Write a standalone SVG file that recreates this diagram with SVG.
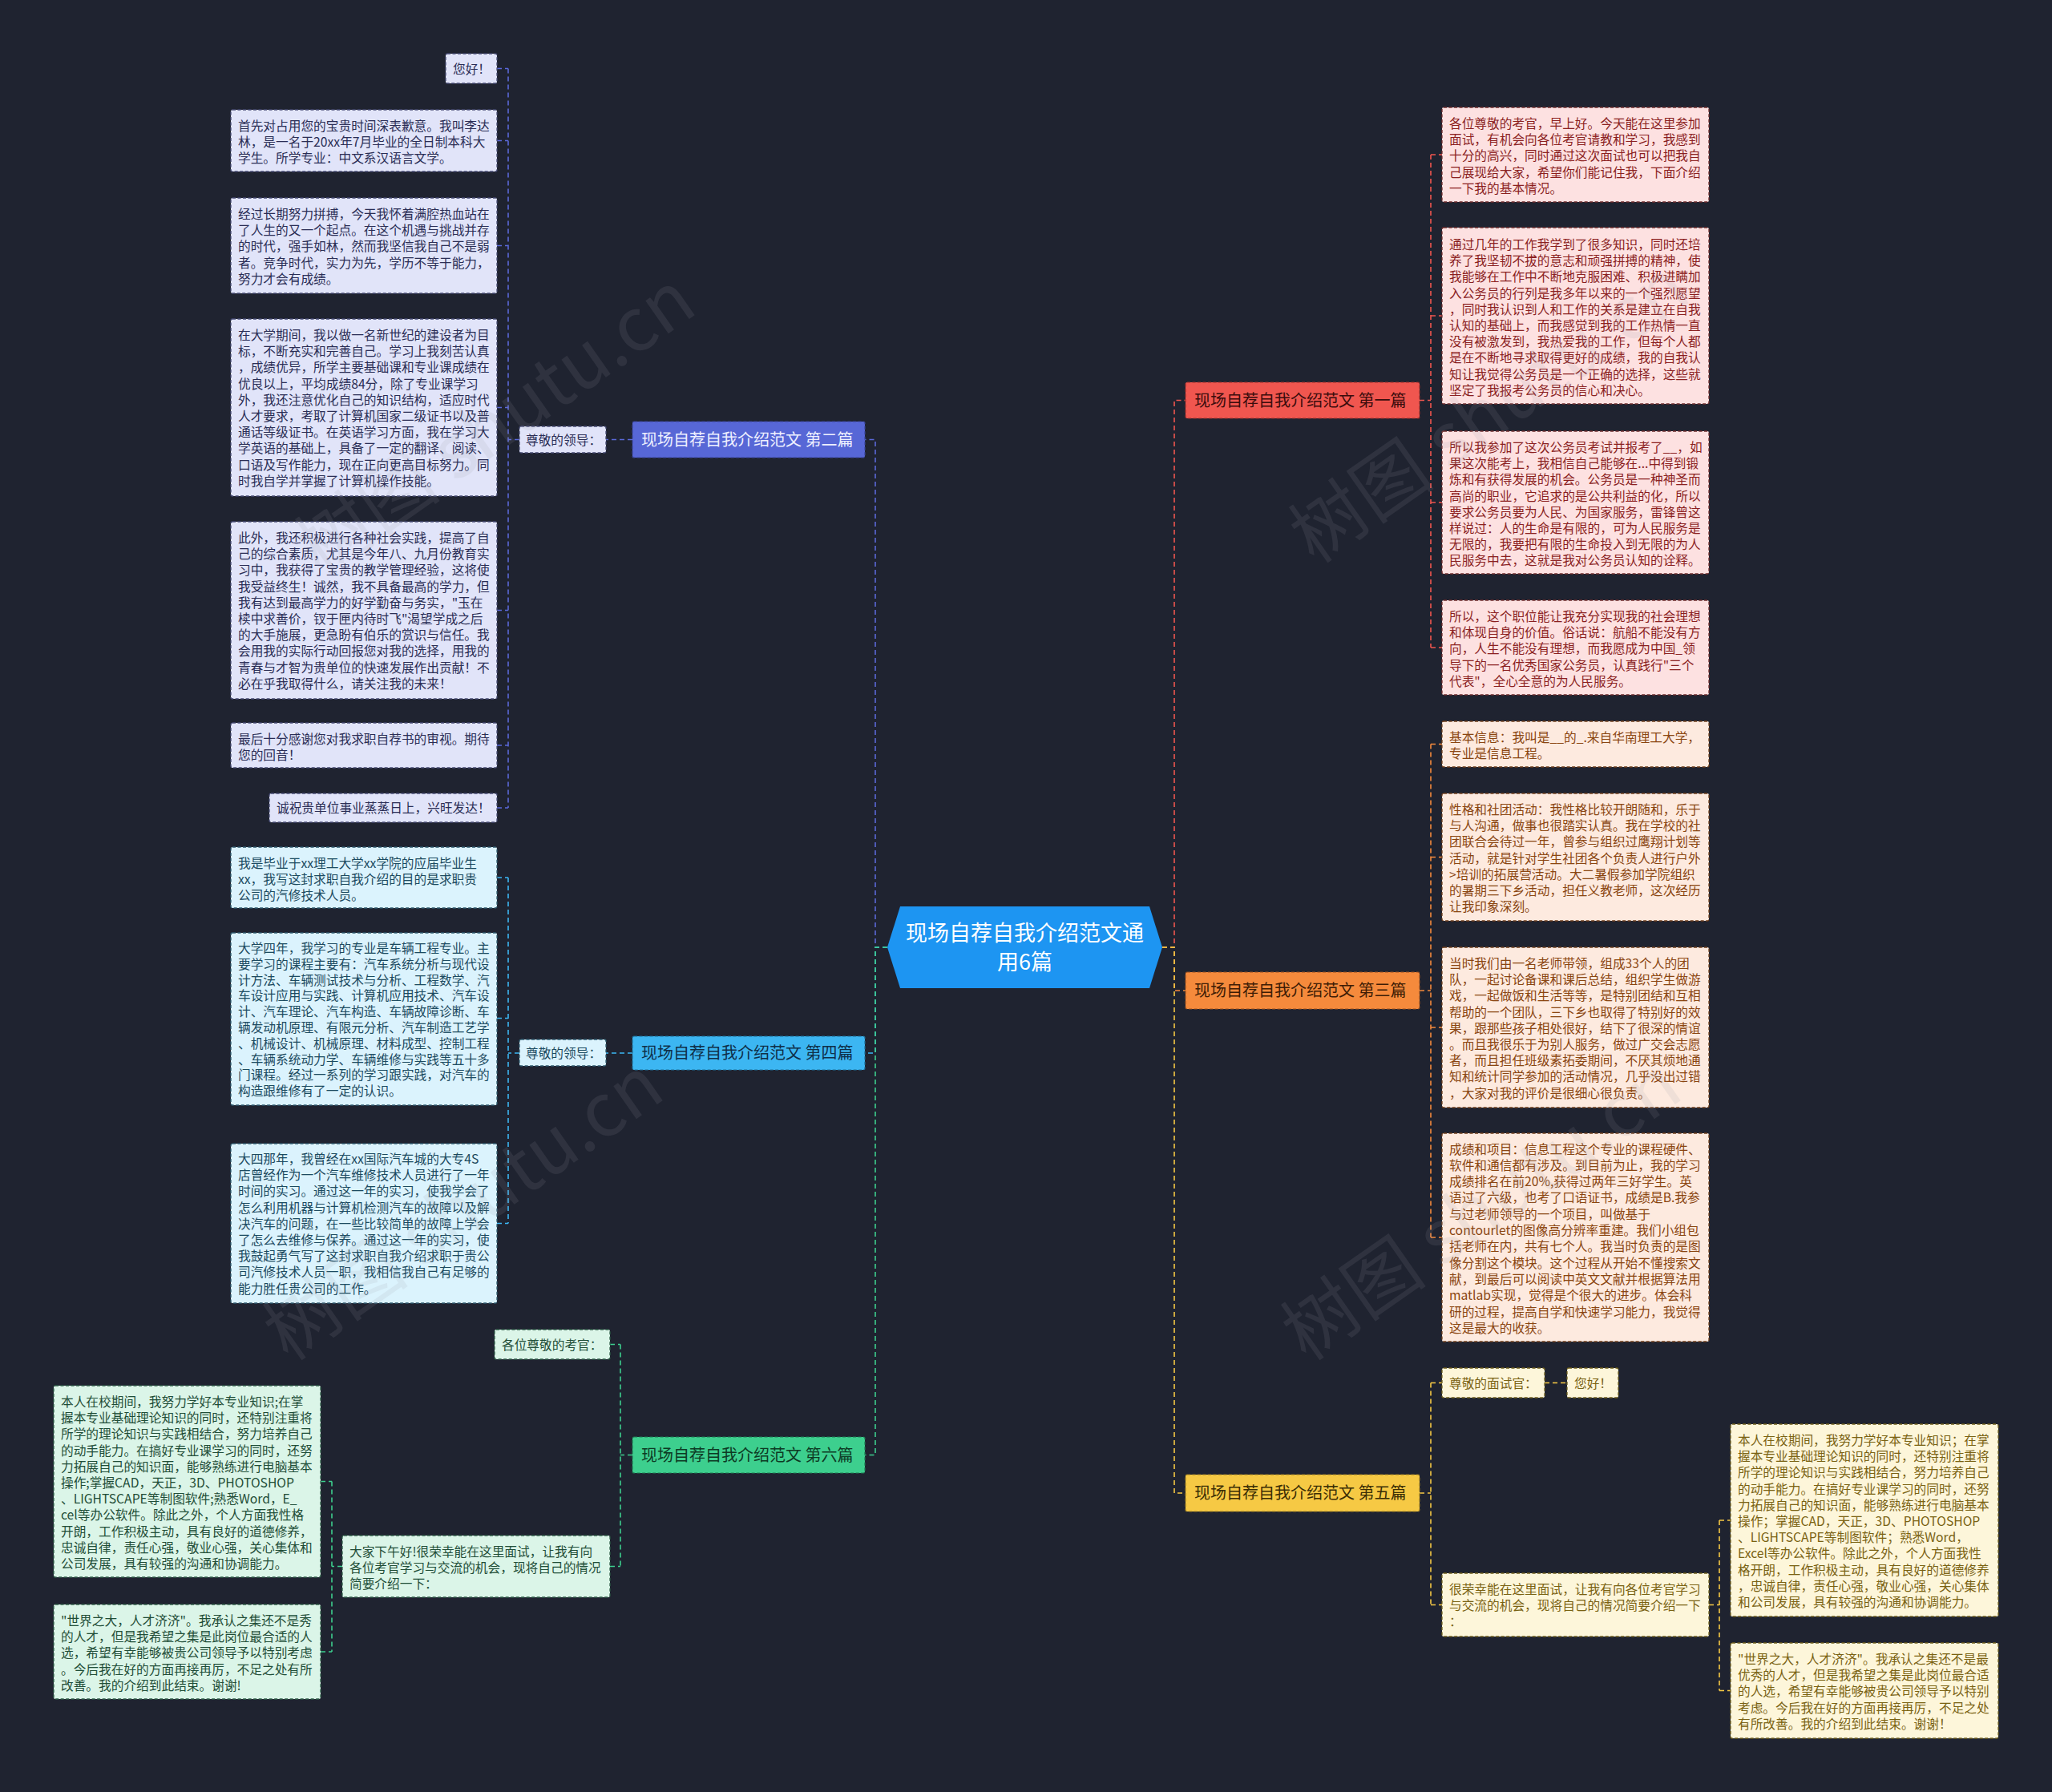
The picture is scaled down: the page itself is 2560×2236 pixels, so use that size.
<svg xmlns="http://www.w3.org/2000/svg" width="2560" height="2236" viewBox="0 0 2560 2236">
<style>
text{font-family:"Noto Sans CJK SC","Liberation Sans",sans-serif;}
.leaf text{font-size:15.7px;}
.leaf rect{stroke-width:1.3;stroke-dasharray:4 2.5;}
.b2 rect{fill:#e1e4f9;stroke:#454a72;} .b2 text{fill:#2a2d55;}
.b4 rect{fill:#dbf3fd;stroke:#2f5a6e;} .b4 text{fill:#1b4a60;}
.b6 rect{fill:#dbf5e8;stroke:#2f5c47;} .b6 text{fill:#1f4d37;}
.b1 rect{fill:#fde1e1;stroke:#6e2c2c;} .b1 text{fill:#8b1f1f;}
.b3 rect{fill:#fdeadf;stroke:#6e3e1c;} .b3 text{fill:#8a4510;}
.b5 rect{fill:#fdf6da;stroke:#6e5e1c;} .b5 text{fill:#7a6212;}
.br text{font-size:20px;}
.br rect{stroke-width:1.2;stroke-dasharray:4 2.5;}
#connectors path{fill:none;stroke-width:1.6;stroke-dasharray:6 4;}
.c1{stroke:#f0564f;} .c2{stroke:#5a68d8;} .c3{stroke:#f58a3c;}
.c4{stroke:#3cb6f2;} .c5{stroke:#f6c944;} .c6{stroke:#3dcf8e;}
.wm{font-size:92px;fill:#9a9aa6;opacity:0.13;}
</style>
<rect width="2560" height="2236" fill="#1f2330"/>

<g id="connectors">
<path class="c2" d="M1107,1182 H1092 V548.5 H1079"/>
<path class="c4" d="M1107,1182 H1092 V1314 H1079"/>
<path class="c6" d="M1107,1182 H1092 V1815.5 H1079"/>
<path class="c1" d="M1450,1182 H1465 V499.5 H1479"/>
<path class="c3" d="M1450,1182 H1465 V1236 H1479"/>
<path class="c5" d="M1450,1182 H1465 V1863 H1479"/>

<path class="c2" d="M789,548.5 H756 M648,548.5 H634 M634,85.5 V1008 M620,85.5 H634 M620,175.5 H634 M620,306.5 H634 M620,508.5 H634 M620,761.5 H634 M620,930 H634 M620,1008 H634"/>
<path class="c4" d="M789,1314 H756 M648,1314 H634 M634,1095 V1526.5 M620,1095 H634 M620,1270.5 H634 M620,1526.5 H634"/>
<path class="c6" d="M789,1815.5 H774 M774,1677.5 V1954.5 M761,1677.5 H774 M761,1954.5 H774 M427,1954.5 H414 M414,1848.5 V2061 M400,1848.5 H414 M400,2061 H414"/>
<path class="c1" d="M1771,499.5 H1785 M1785,193 V808 M1785,193 H1799 M1785,394 H1799 M1785,627 H1799 M1785,808 H1799"/>
<path class="c3" d="M1771,1236 H1785 M1785,928.5 V1544 M1785,928.5 H1799 M1785,1069.5 H1799 M1785,1282 H1799 M1785,1544 H1799"/>
<path class="c5" d="M1771,1863 H1785 M1785,1725.5 V2002.5 M1785,1725.5 H1799 M1785,2002.5 H1799 M1927,1725.5 H1955 M2132,2002.5 H2145 M2145,1897 V2109.5 M2145,1897 H2159 M2145,2109.5 H2159"/>
</g>

<g id="root">
<polygon points="1123,1131 1434,1131 1450,1182 1434,1233 1123,1233 1107,1182" fill="#1d95f2"/>
<text x="1278.5" y="1174" font-size="27" fill="#ffffff" text-anchor="middle">现场自荐自我介绍范文通</text>
<text x="1278.5" y="1210" font-size="27" fill="#ffffff" text-anchor="middle">用6篇</text>
</g>

<g id="branch2" class="br"><rect x="789" y="526" width="290" height="45" rx="2" fill="#5767d6" stroke="#3a4598"/><text x="800" y="555.5" fill="#eef0ff">现场自荐自我介绍范文 第二篇</text></g>
<g id="branch4" class="br"><rect x="789" y="1293" width="290" height="42" rx="2" fill="#3cb6f2" stroke="#1f6e96"/><text x="800" y="1321" fill="#0f2f48">现场自荐自我介绍范文 第四篇</text></g>
<g id="branch6" class="br"><rect x="789" y="1793" width="290" height="45" rx="2" fill="#3dcf8e" stroke="#1f7a52"/><text x="800" y="1822.5" fill="#0d3a24">现场自荐自我介绍范文 第六篇</text></g>
<g id="branch1" class="br"><rect x="1479" y="477" width="292" height="45" rx="2" fill="#f0564f" stroke="#9a2e2a"/><text x="1490" y="506.5" fill="#3a0c0c">现场自荐自我介绍范文 第一篇</text></g>
<g id="branch3" class="br"><rect x="1479" y="1213" width="292" height="46" rx="2" fill="#f58a3c" stroke="#9a5120"/><text x="1490" y="1243" fill="#3d1c05">现场自荐自我介绍范文 第三篇</text></g>
<g id="branch5" class="br"><rect x="1479" y="1840" width="292" height="46" rx="2" fill="#f6c944" stroke="#9a7c20"/><text x="1490" y="1870" fill="#3b2e05">现场自荐自我介绍范文 第五篇</text></g>

<!-- branch 2 -->
<g id="b2-label" class="leaf b2"><rect x="648" y="532" width="108" height="33" rx="2"/><text x="656" y="554.5">尊敬的领导：</text></g>
<g id="b2-1" class="leaf b2"><rect x="556" y="67" width="64" height="37" rx="2"/><text x="565" y="91.5">您好！</text></g>
<g id="b2-2" class="leaf b2"><rect x="288" y="137" width="332" height="77" rx="2"/><text x="297" y="163"><tspan x="297">首先对占用您的宝贵时间深表歉意。我叫李达</tspan><tspan x="297" dy="20.2">林，是一名于20xx年7月毕业的全日制本科大</tspan><tspan x="297" dy="20.2">学生。所学专业：中文系汉语言文学。</tspan></text></g>
<g id="b2-3" class="leaf b2"><rect x="288" y="247" width="332" height="119" rx="2"/><text x="297" y="273"><tspan x="297">经过长期努力拼搏，今天我怀着满腔热血站在</tspan><tspan x="297" dy="20.2">了人生的又一个起点。在这个机遇与挑战并存</tspan><tspan x="297" dy="20.2">的时代，强手如林，然而我坚信我自己不是弱</tspan><tspan x="297" dy="20.2">者。竞争时代，实力为先，学历不等于能力，</tspan><tspan x="297" dy="20.2">努力才会有成绩。</tspan></text></g>
<g id="b2-4" class="leaf b2"><rect x="288" y="398" width="332" height="221" rx="2"/><text x="297" y="424"><tspan x="297">在大学期间，我以做一名新世纪的建设者为目</tspan><tspan x="297" dy="20.2">标，不断充实和完善自己。学习上我刻苦认真</tspan><tspan x="297" dy="20.2">，成绩优异，所学主要基础课和专业课成绩在</tspan><tspan x="297" dy="20.2">优良以上，平均成绩84分，除了专业课学习</tspan><tspan x="297" dy="20.2">外，我还注意优化自己的知识结构，适应时代</tspan><tspan x="297" dy="20.2">人才要求，考取了计算机国家二级证书以及普</tspan><tspan x="297" dy="20.2">通话等级证书。在英语学习方面，我在学习大</tspan><tspan x="297" dy="20.2">学英语的基础上，具备了一定的翻译、阅读、</tspan><tspan x="297" dy="20.2">口语及写作能力，现在正向更高目标努力。同</tspan><tspan x="297" dy="20.2">时我自学并掌握了计算机操作技能。</tspan></text></g>
<g id="b2-5" class="leaf b2"><rect x="288" y="651" width="332" height="221" rx="2"/><text x="297" y="677"><tspan x="297">此外，我还积极进行各种社会实践，提高了自</tspan><tspan x="297" dy="20.2">己的综合素质，尤其是今年八、九月份教育实</tspan><tspan x="297" dy="20.2">习中，我获得了宝贵的教学管理经验，这将使</tspan><tspan x="297" dy="20.2">我受益终生！诚然，我不具备最高的学力，但</tspan><tspan x="297" dy="20.2">我有达到最高学力的好学勤奋与务实，"玉在</tspan><tspan x="297" dy="20.2">椟中求善价，钗于匣内待时飞"渴望学成之后</tspan><tspan x="297" dy="20.2">的大手施展，更急盼有伯乐的赏识与信任。我</tspan><tspan x="297" dy="20.2">会用我的实际行动回报您对我的选择，用我的</tspan><tspan x="297" dy="20.2">青春与才智为贵单位的快速发展作出贡献！不</tspan><tspan x="297" dy="20.2">必在乎我取得什么，请关注我的未来！</tspan></text></g>
<g id="b2-6" class="leaf b2"><rect x="288" y="902" width="332" height="56" rx="2"/><text x="297" y="928"><tspan x="297">最后十分感谢您对我求职自荐书的审视。期待</tspan><tspan x="297" dy="20.2">您的回音！</tspan></text></g>
<g id="b2-7" class="leaf b2"><rect x="336" y="990" width="284" height="36" rx="2"/><text x="345" y="1014">诚祝贵单位事业蒸蒸日上，兴旺发达！</text></g>

<!-- branch 4 -->
<g id="b4-label" class="leaf b4"><rect x="648" y="1297" width="108" height="33" rx="2"/><text x="656" y="1319.5">尊敬的领导：</text></g>
<g id="b4-1" class="leaf b4"><rect x="288" y="1057" width="332" height="76" rx="2"/><text x="297" y="1083"><tspan x="297">我是毕业于xx理工大学xx学院的应届毕业生</tspan><tspan x="297" dy="20.2">xx，我写这封求职自我介绍的目的是求职贵</tspan><tspan x="297" dy="20.2">公司的汽修技术人员。</tspan></text></g>
<g id="b4-2" class="leaf b4"><rect x="288" y="1164" width="332" height="215" rx="2"/><text x="297" y="1189"><tspan x="297">大学四年，我学习的专业是车辆工程专业。主</tspan><tspan x="297" dy="19.8">要学习的课程主要有：汽车系统分析与现代设</tspan><tspan x="297" dy="19.8">计方法、车辆测试技术与分析、工程数学、汽</tspan><tspan x="297" dy="19.8">车设计应用与实践、计算机应用技术、汽车设</tspan><tspan x="297" dy="19.8">计、汽车理论、汽车构造、车辆故障诊断、车</tspan><tspan x="297" dy="19.8">辆发动机原理、有限元分析、汽车制造工艺学</tspan><tspan x="297" dy="19.8">、机械设计、机械原理、材料成型、控制工程</tspan><tspan x="297" dy="19.8">、车辆系统动力学、车辆维修与实践等五十多</tspan><tspan x="297" dy="19.8">门课程。经过一系列的学习跟实践，对汽车的</tspan><tspan x="297" dy="19.8">构造跟维修有了一定的认识。</tspan></text></g>
<g id="b4-3" class="leaf b4"><rect x="288" y="1427" width="332" height="199" rx="2"/><text x="297" y="1452"><tspan x="297">大四那年，我曾经在xx国际汽车城的大专4S</tspan><tspan x="297" dy="20.2">店曾经作为一个汽车维修技术人员进行了一年</tspan><tspan x="297" dy="20.2">时间的实习。通过这一年的实习，使我学会了</tspan><tspan x="297" dy="20.2">怎么利用机器与计算机检测汽车的故障以及解</tspan><tspan x="297" dy="20.2">决汽车的问题，在一些比较简单的故障上学会</tspan><tspan x="297" dy="20.2">了怎么去维修与保养。通过这一年的实习，使</tspan><tspan x="297" dy="20.2">我鼓起勇气写了这封求职自我介绍求职于贵公</tspan><tspan x="297" dy="20.2">司汽修技术人员一职，我相信我自己有足够的</tspan><tspan x="297" dy="20.2">能力胜任贵公司的工作。</tspan></text></g>

<!-- branch 6 -->
<g id="b6-1" class="leaf b6"><rect x="617" y="1659" width="144" height="37" rx="2"/><text x="626" y="1683.5">各位尊敬的考官：</text></g>
<g id="b6-2" class="leaf b6"><rect x="427" y="1916" width="334" height="77" rx="2"/><text x="436" y="1942"><tspan x="436">大家下午好!很荣幸能在这里面试，让我有向</tspan><tspan x="436" dy="20.2">各位考官学习与交流的机会，现将自己的情况</tspan><tspan x="436" dy="20.2">简要介绍一下：</tspan></text></g>
<g id="b6-3" class="leaf b6"><rect x="67" y="1729" width="333" height="239" rx="2"/><text x="76" y="1755"><tspan x="76">本人在校期间，我努力学好本专业知识;在掌</tspan><tspan x="76" dy="20.2">握本专业基础理论知识的同时，还特别注重将</tspan><tspan x="76" dy="20.2">所学的理论知识与实践相结合，努力培养自己</tspan><tspan x="76" dy="20.2">的动手能力。在搞好专业课学习的同时，还努</tspan><tspan x="76" dy="20.2">力拓展自己的知识面，能够熟练进行电脑基本</tspan><tspan x="76" dy="20.2">操作;掌握CAD，天正，3D、PHOTOSHOP</tspan><tspan x="76" dy="20.2">、LIGHTSCAPE等制图软件;熟悉Word，E_</tspan><tspan x="76" dy="20.2">cel等办公软件。除此之外，个人方面我性格</tspan><tspan x="76" dy="20.2">开朗，工作积极主动，具有良好的道德修养，</tspan><tspan x="76" dy="20.2">忠诚自律，责任心强，敬业心强，关心集体和</tspan><tspan x="76" dy="20.2">公司发展，具有较强的沟通和协调能力。</tspan></text></g>
<g id="b6-4" class="leaf b6"><rect x="67" y="2002" width="333" height="118" rx="2"/><text x="76" y="2028"><tspan x="76">"世界之大，人才济济"。我承认之集还不是秀</tspan><tspan x="76" dy="20.2">的人才，但是我希望之集是此岗位最合适的人</tspan><tspan x="76" dy="20.2">选，希望有幸能够被贵公司领导予以特别考虑</tspan><tspan x="76" dy="20.2">。今后我在好的方面再接再厉，不足之处有所</tspan><tspan x="76" dy="20.2">改善。我的介绍到此结束。谢谢!</tspan></text></g>

<!-- branch 1 -->
<g id="b1-1" class="leaf b1"><rect x="1799" y="134" width="333" height="118" rx="2"/><text x="1808" y="160"><tspan x="1808">各位尊敬的考官，早上好。今天能在这里参加</tspan><tspan x="1808" dy="20.2">面试，有机会向各位考官请教和学习，我感到</tspan><tspan x="1808" dy="20.2">十分的高兴，同时通过这次面试也可以把我自</tspan><tspan x="1808" dy="20.2">己展现给大家，希望你们能记住我，下面介绍</tspan><tspan x="1808" dy="20.2">一下我的基本情况。</tspan></text></g>
<g id="b1-2" class="leaf b1"><rect x="1799" y="284" width="333" height="220" rx="2"/><text x="1808" y="311"><tspan x="1808">通过几年的工作我学到了很多知识，同时还培</tspan><tspan x="1808" dy="20.2">养了我坚韧不拔的意志和顽强拼搏的精神，使</tspan><tspan x="1808" dy="20.2">我能够在工作中不断地克服困难、积极进瞒加</tspan><tspan x="1808" dy="20.2">入公务员的行列是我多年以来的一个强烈愿望</tspan><tspan x="1808" dy="20.2">，同时我认识到人和工作的关系是建立在自我</tspan><tspan x="1808" dy="20.2">认知的基础上，而我感觉到我的工作热情一直</tspan><tspan x="1808" dy="20.2">没有被激发到，我热爱我的工作，但每个人都</tspan><tspan x="1808" dy="20.2">是在不断地寻求取得更好的成绩，我的自我认</tspan><tspan x="1808" dy="20.2">知让我觉得公务员是一个正确的选择，这些就</tspan><tspan x="1808" dy="20.2">坚定了我报考公务员的信心和决心。</tspan></text></g>
<g id="b1-3" class="leaf b1"><rect x="1799" y="538" width="333" height="178" rx="2"/><text x="1808" y="564"><tspan x="1808">所以我参加了这次公务员考试并报考了__，如</tspan><tspan x="1808" dy="20.2">果这次能考上，我相信自己能够在...中得到锻</tspan><tspan x="1808" dy="20.2">炼和有获得发展的机会。公务员是一种神圣而</tspan><tspan x="1808" dy="20.2">高尚的职业，它追求的是公共利益的化，所以</tspan><tspan x="1808" dy="20.2">要求公务员要为人民、为国家服务，雷锋曾这</tspan><tspan x="1808" dy="20.2">样说过：人的生命是有限的，可为人民服务是</tspan><tspan x="1808" dy="20.2">无限的，我要把有限的生命投入到无限的为人</tspan><tspan x="1808" dy="20.2">民服务中去，这就是我对公务员认知的诠释。</tspan></text></g>
<g id="b1-4" class="leaf b1"><rect x="1799" y="749" width="333" height="118" rx="2"/><text x="1808" y="775"><tspan x="1808">所以，这个职位能让我充分实现我的社会理想</tspan><tspan x="1808" dy="20.2">和体现自身的价值。俗话说：航船不能没有方</tspan><tspan x="1808" dy="20.2">向，人生不能没有理想，而我愿成为中国_领</tspan><tspan x="1808" dy="20.2">导下的一名优秀国家公务员，认真践行"三个</tspan><tspan x="1808" dy="20.2">代表"，全心全意的为人民服务。</tspan></text></g>

<!-- branch 3 -->
<g id="b3-1" class="leaf b3"><rect x="1799" y="900" width="333" height="57" rx="2"/><text x="1808" y="926"><tspan x="1808">基本信息：我叫是__的_.来自华南理工大学，</tspan><tspan x="1808" dy="20.2">专业是信息工程。</tspan></text></g>
<g id="b3-2" class="leaf b3"><rect x="1799" y="990" width="333" height="159" rx="2"/><text x="1808" y="1016"><tspan x="1808">性格和社团活动：我性格比较开朗随和，乐于</tspan><tspan x="1808" dy="20.2">与人沟通，做事也很踏实认真。我在学校的社</tspan><tspan x="1808" dy="20.2">团联合会待过一年，曾参与组织过鹰翔计划等</tspan><tspan x="1808" dy="20.2">活动，就是针对学生社团各个负责人进行户外</tspan><tspan x="1808" dy="20.2">&gt;培训的拓展营活动。大二暑假参加学院组织</tspan><tspan x="1808" dy="20.2">的暑期三下乡活动，担任义教老师，这次经历</tspan><tspan x="1808" dy="20.2">让我印象深刻。</tspan></text></g>
<g id="b3-3" class="leaf b3"><rect x="1799" y="1182" width="333" height="200" rx="2"/><text x="1808" y="1208"><tspan x="1808">当时我们由一名老师带领，组成33个人的团</tspan><tspan x="1808" dy="20.2">队，一起讨论备课和课后总结，组织学生做游</tspan><tspan x="1808" dy="20.2">戏，一起做饭和生活等等，是特别团结和互相</tspan><tspan x="1808" dy="20.2">帮助的一个团队，三下乡也取得了特别好的效</tspan><tspan x="1808" dy="20.2">果，跟那些孩子相处很好，结下了很深的情谊</tspan><tspan x="1808" dy="20.2">。而且我很乐于为别人服务，做过广交会志愿</tspan><tspan x="1808" dy="20.2">者，而且担任班级素拓委期间，不厌其烦地通</tspan><tspan x="1808" dy="20.2">知和统计同学参加的活动情况，几乎没出过错</tspan><tspan x="1808" dy="20.2">，大家对我的评价是很细心很负责。</tspan></text></g>
<g id="b3-4" class="leaf b3"><rect x="1799" y="1414" width="333" height="260" rx="2"/><text x="1808" y="1439.5"><tspan x="1808">成绩和项目：信息工程这个专业的课程硬件、</tspan><tspan x="1808" dy="20.3">软件和通信都有涉及。到目前为止，我的学习</tspan><tspan x="1808" dy="20.3">成绩排名在前20%,获得过两年三好学生。英</tspan><tspan x="1808" dy="20.3">语过了六级，也考了口语证书，成绩是B.我参</tspan><tspan x="1808" dy="20.3">与过老师领导的一个项目，叫做基于</tspan><tspan x="1808" dy="20.3">contourlet的图像高分辨率重建。我们小组包</tspan><tspan x="1808" dy="20.3">括老师在内，共有七个人。我当时负责的是图</tspan><tspan x="1808" dy="20.3">像分割这个模块。这个过程从开始不懂搜索文</tspan><tspan x="1808" dy="20.3">献，到最后可以阅读中英文文献并根据算法用</tspan><tspan x="1808" dy="20.3">matlab实现，觉得是个很大的进步。体会科</tspan><tspan x="1808" dy="20.3">研的过程，提高自学和快速学习能力，我觉得</tspan><tspan x="1808" dy="20.3">这是最大的收获。</tspan></text></g>

<!-- branch 5 -->
<g id="b5-1" class="leaf b5"><rect x="1799" y="1707" width="128" height="37" rx="2"/><text x="1808" y="1731.5">尊敬的面试官：</text></g>
<g id="b5-2" class="leaf b5"><rect x="1955" y="1707" width="64" height="37" rx="2"/><text x="1964" y="1731.5">您好！</text></g>
<g id="b5-3" class="leaf b5"><rect x="1799" y="1963" width="333" height="79" rx="2"/><text x="1808" y="1989"><tspan x="1808">很荣幸能在这里面试，让我有向各位考官学习</tspan><tspan x="1808" dy="20.2">与交流的机会，现将自己的情况简要介绍一下</tspan><tspan x="1808" dy="20.2">：</tspan></text></g>
<g id="b5-4" class="leaf b5"><rect x="2159" y="1777" width="334" height="240" rx="2"/><text x="2168" y="1803"><tspan x="2168">本人在校期间，我努力学好本专业知识；在掌</tspan><tspan x="2168" dy="20.2">握本专业基础理论知识的同时，还特别注重将</tspan><tspan x="2168" dy="20.2">所学的理论知识与实践相结合，努力培养自己</tspan><tspan x="2168" dy="20.2">的动手能力。在搞好专业课学习的同时，还努</tspan><tspan x="2168" dy="20.2">力拓展自己的知识面，能够熟练进行电脑基本</tspan><tspan x="2168" dy="20.2">操作；掌握CAD，天正，3D、PHOTOSHOP</tspan><tspan x="2168" dy="20.2">、LIGHTSCAPE等制图软件；熟悉Word，</tspan><tspan x="2168" dy="20.2">Excel等办公软件。除此之外，个人方面我性</tspan><tspan x="2168" dy="20.2">格开朗，工作积极主动，具有良好的道德修养</tspan><tspan x="2168" dy="20.2">，忠诚自律，责任心强，敬业心强，关心集体</tspan><tspan x="2168" dy="20.2">和公司发展，具有较强的沟通和协调能力。</tspan></text></g>
<g id="b5-5" class="leaf b5"><rect x="2159" y="2050" width="334" height="119" rx="2"/><text x="2168" y="2076"><tspan x="2168">"世界之大，人才济济"。我承认之集还不是最</tspan><tspan x="2168" dy="20.2">优秀的人才，但是我希望之集是此岗位最合适</tspan><tspan x="2168" dy="20.2">的人选，希望有幸能够被贵公司领导予以特别</tspan><tspan x="2168" dy="20.2">考虑。今后我在好的方面再接再厉，不足之处</tspan><tspan x="2168" dy="20.2">有所改善。我的介绍到此结束。谢谢！</tspan></text></g>

<g id="watermark">
<text class="wm" transform="translate(400,720) rotate(-35)">树图 shutu.cn</text>
<text class="wm" transform="translate(1640,705) rotate(-35)">树图 shutu.cn</text>
<text class="wm" transform="translate(360,1700) rotate(-35)">树图 shutu.cn</text>
<text class="wm" transform="translate(1630,1700) rotate(-35)">树图 shutu.cn</text>
</g>
</svg>
